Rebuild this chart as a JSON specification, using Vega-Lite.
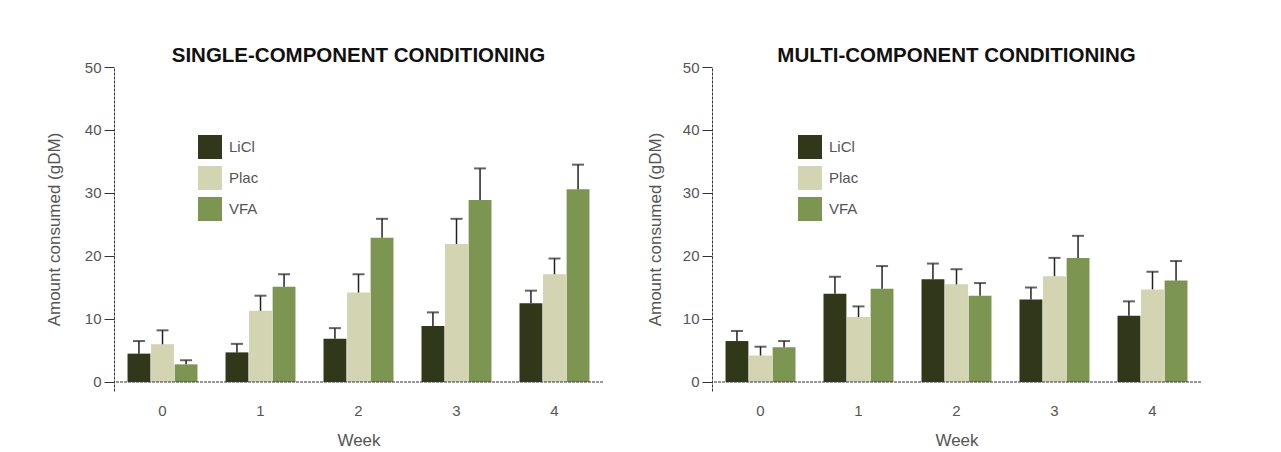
{
  "$schema": "https://vega.github.io/schema/vega-lite/v6.json",
  "background": "white",
  "padding": {"left": 45, "top": 45, "right": 0, "bottom": 0},
  "datasets": {
    "single": [
      {"week": "0", "group": "LiCl", "mean": 4.5, "upper": 6.5},
      {"week": "0", "group": "Plac", "mean": 6.0, "upper": 8.2},
      {"week": "0", "group": "VFA", "mean": 2.8, "upper": 3.45},
      {"week": "1", "group": "LiCl", "mean": 4.7, "upper": 6.05},
      {"week": "1", "group": "Plac", "mean": 11.3, "upper": 13.7},
      {"week": "1", "group": "VFA", "mean": 15.1, "upper": 17.1},
      {"week": "2", "group": "LiCl", "mean": 6.85, "upper": 8.55},
      {"week": "2", "group": "Plac", "mean": 14.2, "upper": 17.1},
      {"week": "2", "group": "VFA", "mean": 22.9, "upper": 25.9},
      {"week": "3", "group": "LiCl", "mean": 8.9, "upper": 11.05},
      {"week": "3", "group": "Plac", "mean": 21.9, "upper": 25.9},
      {"week": "3", "group": "VFA", "mean": 28.9, "upper": 33.9},
      {"week": "4", "group": "LiCl", "mean": 12.5, "upper": 14.5},
      {"week": "4", "group": "Plac", "mean": 17.1, "upper": 19.6},
      {"week": "4", "group": "VFA", "mean": 30.6, "upper": 34.5}
    ],
    "multi": [
      {"week": "0", "group": "LiCl", "mean": 6.5, "upper": 8.1},
      {"week": "0", "group": "Plac", "mean": 4.2, "upper": 5.6},
      {"week": "0", "group": "VFA", "mean": 5.5, "upper": 6.5},
      {"week": "1", "group": "LiCl", "mean": 14.0, "upper": 16.7},
      {"week": "1", "group": "Plac", "mean": 10.3, "upper": 12.0},
      {"week": "1", "group": "VFA", "mean": 14.8, "upper": 18.4},
      {"week": "2", "group": "LiCl", "mean": 16.3, "upper": 18.8},
      {"week": "2", "group": "Plac", "mean": 15.5, "upper": 17.9},
      {"week": "2", "group": "VFA", "mean": 13.7, "upper": 15.7},
      {"week": "3", "group": "LiCl", "mean": 13.1, "upper": 15.0},
      {"week": "3", "group": "Plac", "mean": 16.8, "upper": 19.7},
      {"week": "3", "group": "VFA", "mean": 19.7, "upper": 23.2},
      {"week": "4", "group": "LiCl", "mean": 10.5, "upper": 12.8},
      {"week": "4", "group": "Plac", "mean": 14.7, "upper": 17.5},
      {"week": "4", "group": "VFA", "mean": 16.1, "upper": 19.2}
    ],
    "zero": [{"v": 0}]
  },
  "config": {
    "font": "Liberation Sans",
    "view": {"stroke": null},
    "axis": {
      "labelFont": "Liberation Sans",
      "titleFont": "Liberation Sans",
      "labelColor": "#555",
      "titleColor": "#555",
      "labelFontSize": 15,
      "titleFontSize": 17,
      "titleFontWeight": "normal",
      "grid": false
    },
    "legend": {
      "labelFont": "Liberation Sans",
      "labelFontSize": 15,
      "labelColor": "#555"
    },
    "title": {
      "font": "Liberation Sans",
      "fontSize": 20.5,
      "fontWeight": "bold",
      "color": "#111",
      "anchor": "middle",
      "frame": "group",
      "offset": -6
    }
  },
  "spacing": 42,
  "hconcat": [
    {
      "title": "SINGLE-COMPONENT CONDITIONING",
      "width": 489,
      "height": 324,
      "layer": [
        {
          "data": {"name": "single"},
          "mark": {"type": "bar"},
          "encoding": {
            "x": {"field": "week", "type": "nominal", "scale": {"paddingInner": 0.286, "paddingOuter": 0.138},
                  "axis": {"title": "Week", "labelAngle": 0, "domain": false, "ticks": false, "labelPadding": 12, "titlePadding": 14}},
            "xOffset": {"field": "group", "type": "nominal", "sort": ["LiCl", "Plac", "VFA"], "scale": {"paddingInner": 0.03, "paddingOuter": 0}},
            "y": {"field": "mean", "type": "quantitative", "scale": {"domain": [-1.43, 50], "nice": false, "zero": false},
                  "axis": {"title": "Amount consumed (gDM)", "values": [0, 10, 20, 30, 40, 50], "tickSize": 10, "labelPadding": 3,
                           "domainColor": "#333", "tickColor": "#333", "domainDash": [3, 1], "titlePadding": 21}},
            "color": {"field": "group", "type": "nominal",
                      "scale": {"domain": ["LiCl", "Plac", "VFA"], "range": ["#313819", "#d2d4b2", "#7c9551"]},
                      "legend": {"title": null, "orient": "none", "legendX": 84, "legendY": 68, "symbolType": "square", "symbolSize": 576, "symbolStrokeWidth": 0, "rowPadding": 7, "labelOffset": 7}}
          }
        },
        {
          "data": {"name": "single"},
          "mark": {"type": "rule", "color": "#222", "strokeWidth": 1.5},
          "encoding": {
            "x": {"field": "week", "type": "nominal"},
            "xOffset": {"field": "group", "type": "nominal", "sort": ["LiCl", "Plac", "VFA"]},
            "y": {"field": "mean", "type": "quantitative"},
            "y2": {"field": "upper"}
          }
        },
        {
          "data": {"name": "single"},
          "mark": {"type": "tick", "color": "#222", "thickness": 2, "size": 12},
          "encoding": {
            "x": {"field": "week", "type": "nominal"},
            "xOffset": {"field": "group", "type": "nominal", "sort": ["LiCl", "Plac", "VFA"]},
            "y": {"field": "upper", "type": "quantitative"}
          }
        },
        {
          "data": {"name": "zero"},
          "mark": {"type": "rule", "color": "#333", "strokeDash": [3, 1], "strokeWidth": 1.2},
          "encoding": {"y": {"field": "v", "type": "quantitative"}}
        }
      ]
    },
    {
      "title": "MULTI-COMPONENT CONDITIONING",
      "width": 489,
      "height": 324,
      "layer": [
        {
          "data": {"name": "multi"},
          "mark": {"type": "bar"},
          "encoding": {
            "x": {"field": "week", "type": "nominal", "scale": {"paddingInner": 0.286, "paddingOuter": 0.138},
                  "axis": {"title": "Week", "labelAngle": 0, "domain": false, "ticks": false, "labelPadding": 12, "titlePadding": 14}},
            "xOffset": {"field": "group", "type": "nominal", "sort": ["LiCl", "Plac", "VFA"], "scale": {"paddingInner": 0.03, "paddingOuter": 0}},
            "y": {"field": "mean", "type": "quantitative", "scale": {"domain": [-1.43, 50], "nice": false, "zero": false},
                  "axis": {"title": "Amount consumed (gDM)", "values": [0, 10, 20, 30, 40, 50], "tickSize": 10, "labelPadding": 3,
                           "domainColor": "#333", "tickColor": "#333", "domainDash": [3, 1], "titlePadding": 18}},
            "color": {"field": "group", "type": "nominal",
                      "scale": {"domain": ["LiCl", "Plac", "VFA"], "range": ["#313819", "#d2d4b2", "#7c9551"]},
                      "legend": {"title": null, "orient": "none", "legendX": 86, "legendY": 68, "symbolType": "square", "symbolSize": 576, "symbolStrokeWidth": 0, "rowPadding": 7, "labelOffset": 7}}
          }
        },
        {
          "data": {"name": "multi"},
          "mark": {"type": "rule", "color": "#222", "strokeWidth": 1.5},
          "encoding": {
            "x": {"field": "week", "type": "nominal"},
            "xOffset": {"field": "group", "type": "nominal", "sort": ["LiCl", "Plac", "VFA"]},
            "y": {"field": "mean", "type": "quantitative"},
            "y2": {"field": "upper"}
          }
        },
        {
          "data": {"name": "multi"},
          "mark": {"type": "tick", "color": "#222", "thickness": 2, "size": 12},
          "encoding": {
            "x": {"field": "week", "type": "nominal"},
            "xOffset": {"field": "group", "type": "nominal", "sort": ["LiCl", "Plac", "VFA"]},
            "y": {"field": "upper", "type": "quantitative"}
          }
        },
        {
          "data": {"name": "zero"},
          "mark": {"type": "rule", "color": "#333", "strokeDash": [3, 1], "strokeWidth": 1.2},
          "encoding": {"y": {"field": "v", "type": "quantitative"}}
        }
      ]
    }
  ],
  "resolve": {"legend": {"color": "independent"}, "scale": {"color": "independent"}}
}
